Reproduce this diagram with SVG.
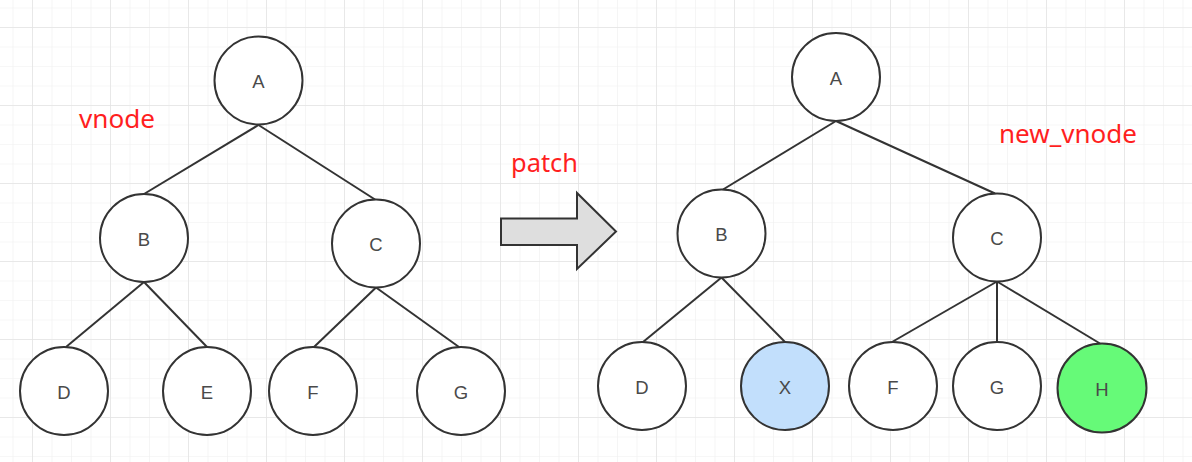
<svg xmlns="http://www.w3.org/2000/svg" width="1192" height="462" viewBox="0 0 1192 462">
<defs>
<pattern id="minor" x="12.5" y="7.5" width="19.5" height="19.5" patternUnits="userSpaceOnUse">
<path d="M0 0V19.5M0 0H19.5" fill="none" stroke="#efefef" stroke-width="1.2"/>
</pattern>
<pattern id="major" x="32" y="27" width="78" height="78" patternUnits="userSpaceOnUse">
<path d="M0 0V78M0 0H78" fill="none" stroke="#e3e3e3" stroke-width="1.4"/>
</pattern>
</defs>
<style>
.n{fill:#fff;stroke:#333;stroke-width:2}
.t{font-family:"Liberation Sans",Arial,sans-serif;font-size:18.5px;fill:#4a4a4a;text-anchor:middle}
.r{font-family:"Noto Sans","Liberation Sans",sans-serif;font-size:25px;fill:#ff1f1f}
#connectors line{stroke:#333;stroke-width:2}
</style>
<rect width="1192" height="462" fill="#fff"/>
<rect width="1192" height="462" fill="url(#minor)"/>
<rect width="1192" height="462" fill="url(#major)"/>

<g id="connectors">
<line x1="258.5" y1="125" x2="144" y2="194"/>
<line x1="258.5" y1="125" x2="375" y2="199.5"/>
<line x1="144" y1="282" x2="66" y2="347"/>
<line x1="144" y1="282" x2="207" y2="347"/>
<line x1="376" y1="287.5" x2="314" y2="347"/>
<line x1="376" y1="287.5" x2="459" y2="347"/>
<line x1="836" y1="121" x2="723" y2="189.5"/>
<line x1="836" y1="121" x2="995" y2="193.5"/>
<line x1="721.5" y1="277.5" x2="643" y2="342"/>
<line x1="721.5" y1="277.5" x2="785" y2="342"/>
<line x1="997" y1="281.5" x2="892" y2="342"/>
<line x1="997" y1="281.5" x2="997" y2="342"/>
<line x1="997" y1="281.5" x2="1100" y2="343.5"/>
</g>

<g id="label-vnode"><text class="r" x="79" y="128" textLength="76" lengthAdjust="spacingAndGlyphs">vnode</text></g>
<g id="label-patch"><text class="r" x="511" y="172" textLength="67" lengthAdjust="spacingAndGlyphs">patch</text></g>
<g id="label-new-vnode"><text class="r" x="999" y="143" textLength="138" lengthAdjust="spacingAndGlyphs">new_vnode</text></g>

<g id="patch-arrow"><polygon points="501,218.5 577,218.5 577,193 616,231.5 577,269 577,245 501,245" fill="#dedede" stroke="#333" stroke-width="2" stroke-linejoin="miter"/></g>

<g id="node-A"><circle class="n" cx="258.5" cy="80.5" r="44"/><text class="t" x="258.5" y="88">A</text></g>
<g id="node-B"><circle class="n" cx="144" cy="238" r="44"/><text class="t" x="144" y="245.5">B</text></g>
<g id="node-C"><circle class="n" cx="376" cy="243.5" r="44"/><text class="t" x="376" y="251">C</text></g>
<g id="node-D"><circle class="n" cx="64" cy="391" r="44"/><text class="t" x="64" y="398.5">D</text></g>
<g id="node-E"><circle class="n" cx="207" cy="391" r="44"/><text class="t" x="207" y="398.5">E</text></g>
<g id="node-F"><circle class="n" cx="313" cy="391" r="44"/><text class="t" x="313" y="398.5">F</text></g>
<g id="node-G"><circle class="n" cx="461" cy="391" r="44"/><text class="t" x="461" y="398.5">G</text></g>

<g id="node-A2"><circle class="n" cx="836" cy="77" r="44"/><text class="t" x="836" y="84.5">A</text></g>
<g id="node-B2"><circle class="n" cx="721.5" cy="233.5" r="44"/><text class="t" x="721.5" y="241">B</text></g>
<g id="node-C2"><circle class="n" cx="997" cy="237.5" r="44"/><text class="t" x="997" y="245">C</text></g>
<g id="node-D2"><circle class="n" cx="642" cy="386" r="44"/><text class="t" x="642" y="393.5">D</text></g>
<g id="node-X"><circle class="n" cx="785" cy="386" r="44" style="fill:#c2dffc"/><text class="t" x="785" y="393.5">X</text></g>
<g id="node-F2"><circle class="n" cx="893" cy="386" r="44"/><text class="t" x="893" y="393.5">F</text></g>
<g id="node-G2"><circle class="n" cx="997" cy="386" r="44"/><text class="t" x="997" y="393.5">G</text></g>
<g id="node-H"><circle class="n" cx="1102" cy="388" r="44.5" style="fill:#66fa78"/><text class="t" x="1102" y="395.5">H</text></g>
</svg>
